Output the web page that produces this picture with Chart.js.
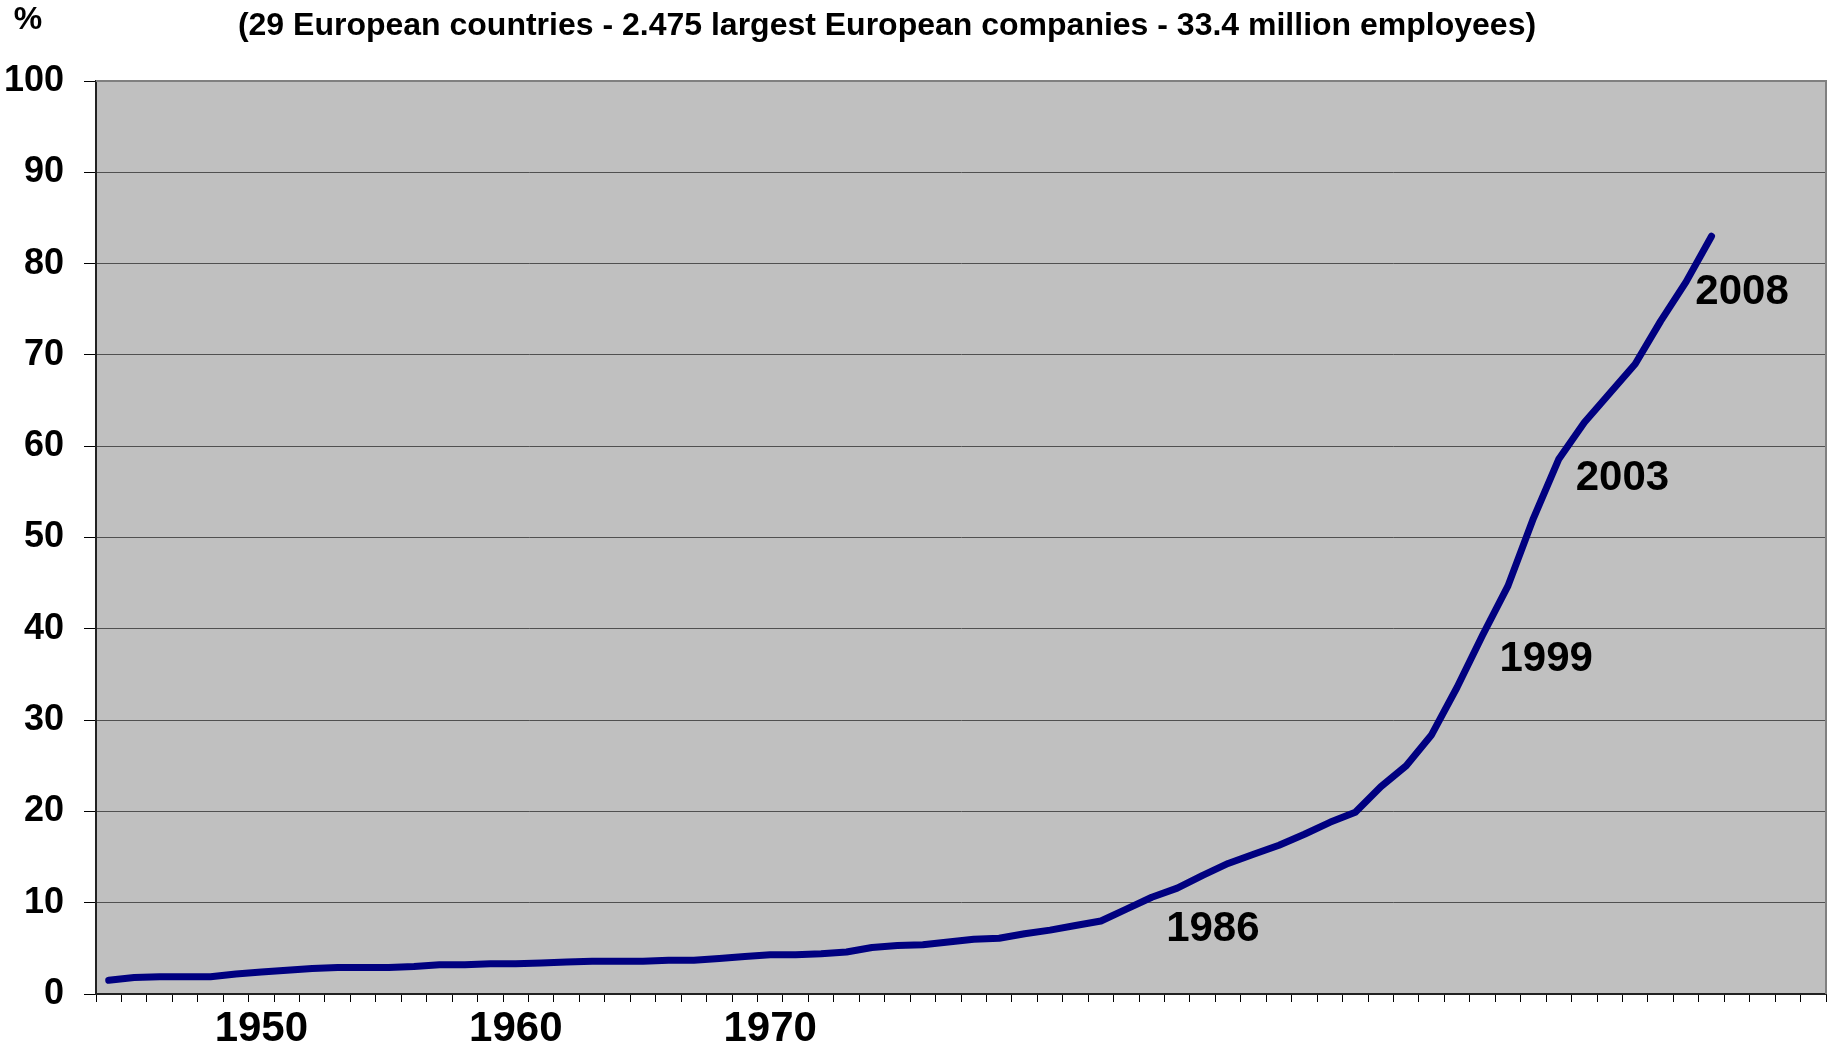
<!DOCTYPE html>
<html>
<head>
<meta charset="utf-8">
<script src="https://cdn.jsdelivr.net/npm/chart.js@4/dist/chart.umd.min.js"></script>
<style>
  body { margin: 0; background: #fff; }
  canvas { display: block; }
</style>
</head>
<body>
<canvas id="share" width="1827" height="1048"></canvas>
<script>
// categories: one per year
const years = ['1944','1945','1946','1947','1948','1949','1950','1951','1952','1953',
  '1954','1955','1956','1957','1958','1959','1960','1961','1962','1963',
  '1964','1965','1966','1967','1968','1969','1970','1971','1972','1973',
  '1974','1975','1976','1977','1978','1979','1980','1981','1982','1983',
  '1984','1985','1986','1987','1988','1989','1990','1991','1992','1993',
  '1994','1995','1996','1997','1998','1999','2000','2001','2002','2003',
  '2004','2005','2006','2007','2008','2009','2010','2011']

// % share
const shareValues = [1.5,1.8,1.9,1.9,1.9,2.2,2.4,2.6,2.8,2.9,
  2.9,2.9,3.0,3.2,3.2,3.3,3.3,3.4,3.5,3.6,
  3.6,3.6,3.7,3.7,3.9,4.1,4.3,4.3,4.4,4.6,
  5.1,5.3,5.4,5.7,6.0,6.1,6.6,7.0,7.5,8.0,
  9.3,10.6,11.6,13.0,14.3,15.3,16.3,17.5,18.8,19.9,
  22.7,25.0,28.4,33.6,39.3,44.7,52.1,58.6,62.6,65.8,
  69.0,73.7,78.0,83.0]

const shownYears = ['1950','1960','1970']
const yTicks = [0,10,20,30,40,50,60,70,80,90,100]

const titleText = '(29 European countries - 2.475 largest European companies - 33.4 million employees)'
const noteTexts = ['1986','1999','2003','2008']

const FONT = '"Liberation Sans", Arial, sans-serif'

// background, frame, title and year notes
const extras = {
    id:'extras',
    beforeDraw(chart){
        const {ctx, chartArea:a} = chart
        ctx.save()
        ctx.fillStyle = '#c0c0c0'
        ctx.fillRect(a.left, a.top, a.right - a.left, a.bottom - a.top)
        ctx.restore()
    },
    afterDatasetsDraw(chart){
        const {ctx, chartArea:a, scales} = chart
        ctx.save()
        ctx.strokeStyle = '#808080'
        ctx.lineWidth = 2
        ctx.beginPath()
        ctx.moveTo(a.left, a.top)
        ctx.lineTo(a.right, a.top)
        ctx.lineTo(a.right, a.bottom)
        ctx.stroke()

        ctx.fillStyle = '#000'
        ctx.textBaseline = 'middle'
        ctx.textAlign = 'center'
        ctx.font = 'bold 32px ' + FONT
        ctx.fillText(titleText, 887, 26)
        ctx.fillText('%', 28, 20)

        // notes sit next to their point on the curve
        const spots = [[43.4, 7.1], [56.5, 36.6], [59.5, 56.5], [64.2, 76.8]]
        ctx.font = 'bold 42px ' + FONT
        noteTexts.forEach((t, i) => {
            const x = scales.x.getPixelForValue(spots[i][0])
            const y = scales.y.getPixelForValue(spots[i][1])
            ctx.fillText(t, x, y)
        })
        ctx.restore()
    }
}

const shareChart = document.getElementById('share').getContext('2d')
const share = new Chart(shareChart,{
    type:'line',
    data:{
        labels:years,
        datasets:[{
            data:shareValues,
            borderColor:'#000080',
            borderWidth:7,
            borderCapStyle:'round',
            borderJoinStyle:'round',
            pointRadius:0,
            tension:0
        }]
    },
    options:{
        responsive:false,
        animation:false,
        devicePixelRatio:1,
        layout:{
            padding:{top:81, right:1, left:0, bottom:0}
        },
        scales:{
            x:{
                type:'category',
                offset:true,
                afterFit(scale){ scale.height = 54 },
                grid:{
                    offset:true,
                    drawOnChartArea:false,
                    tickLength:8,
                    color:'#000'
                },
                border:{color:'#222', width:2},
                ticks:{
                    autoSkip:false,
                    maxRotation:0,
                    padding:2,
                    color:'#000',
                    font:{family:FONT, size:42, weight:'bold'},
                    callback(v){
                        const y = this.getLabelForValue(v)
                        return shownYears.includes(y) ? y : ''
                    }
                }
            },
            y:{
                min:0,
                max:100,
                afterFit(scale){ scale.width = 96 },
                afterBuildTicks(scale){ scale.ticks = yTicks.map(v => ({value:v})) },
                grid:{
                    color:'#505050',
                    tickColor:'#000',
                    tickLength:12,
                    lineWidth:1
                },
                border:{color:'#222', width:2},
                ticks:{
                    padding:20,
                    color:'#000',
                    font:{family:FONT, size:36, weight:'bold'}
                }
            }
        },
        plugins:{
            legend:{display:false},
            tooltip:{enabled:false}
        }
    },
    plugins:[extras]
})
</script>
</body>
</html>
